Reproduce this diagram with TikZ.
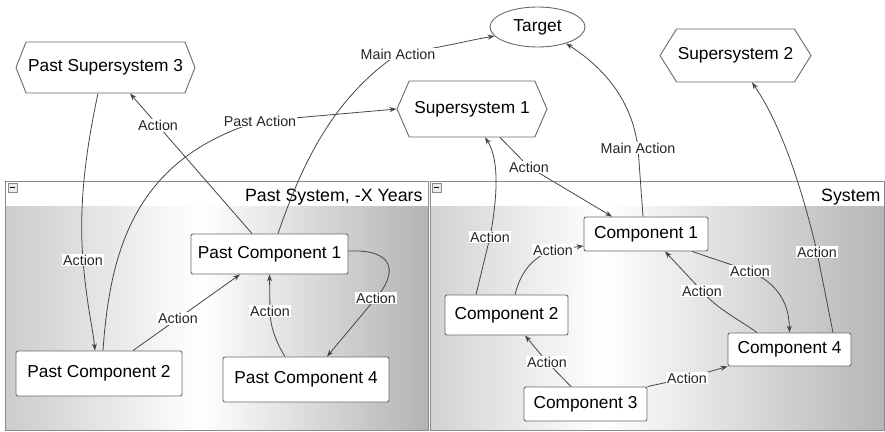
\documentclass[tikz,border=0pt]{standalone}
\usepackage{fontspec}
\setmainfont{Liberation Sans}
\usetikzlibrary{shapes.geometric,shapes.symbols,arrows.meta,calc}

\definecolor{edgecol}{HTML}{454545}
\definecolor{framecol}{HTML}{8A8A8A}
\definecolor{boxcol}{HTML}{6A6A6A}
\definecolor{pastL}{HTML}{CCCCCC}
\definecolor{pastR}{HTML}{B3B3B3}
\definecolor{sysL}{HTML}{D2D2D2}
\definecolor{sysR}{HTML}{B6B6B6}

% horizontal fills of the two system panels (visible range 25bp..75bp)
\pgfdeclarehorizontalshading{pastfill}{100bp}{color(0bp)=(pastL); color(25bp)=(pastL); color(48bp)=(white); color(75bp)=(pastR); color(100bp)=(pastR)}
\pgfdeclarehorizontalshading{sysfill}{100bp}{color(0bp)=(sysL); color(25bp)=(sysL); color(44bp)=(white); color(75bp)=(sysR); color(100bp)=(sysR)}

\tikzset{
  nodefont/.style={font=\fontsize{17.3}{20}\selectfont},
  comp/.style={draw=boxcol, fill=white, rounded corners=2pt, line width=0.9pt,
    inner sep=0pt, nodefont},
  superbox/.style={signal, signal to=west and east, signal pointer angle=#1,
    draw=boxcol, fill=white, line width=0.9pt, inner sep=0pt, nodefont},
  targetbox/.style={ellipse, draw=boxcol, fill=white, line width=0.9pt,
    inner sep=0pt, minimum width=95pt, minimum height=40pt, nodefont},
  lbl/.style={fill=white, inner sep=1.2pt, text=black!85,
    font=\fontsize{14.3}{16}\selectfont},
  conn/.style={draw=edgecol, line width=0.8pt,
    -{Stealth[length=7pt,width=5pt]}},
  panel/.style={draw=framecol, line width=0.8pt},
  paneltitle/.style={anchor=base east, font=\fontsize{17.8}{20}\selectfont},
  minusbox/.style={draw=framecol, fill=black!8, line width=0.6pt,
    minimum size=9pt, inner sep=0pt}
}

\begin{document}
\begin{tikzpicture}[x=1pt,y=-1pt]
\useasboundingbox (0,0) rectangle (885,431);

% ---------- panels ----------
\shade[shading=pastfill] (5,206) rectangle (428,430);
\shade[shading=sysfill] (430,206) rectangle (884.5,430);
\draw[panel] (5,181) rectangle (428,430);
\draw[panel] (430,181) rectangle (884.5,430);
\node[minusbox] (m1) at (12.5,187.5) {};
\draw[line width=0.9pt] ([xshift=-2.5pt]m1.center) -- ([xshift=2.5pt]m1.center);
\node[minusbox] (m2) at (436.5,187.5) {};
\draw[line width=0.9pt] ([xshift=-2.5pt]m2.center) -- ([xshift=2.5pt]m2.center);
\node[paneltitle] (t1) at (426,201) {Past System, -X Years};
\node[paneltitle] (t2) at (884,201) {System};

% ---------- nodes ----------
\node[superbox=137, minimum width=179pt, minimum height=51pt] (ps3) at (105.5,67.5) {Past Supersystem 3};
\node[superbox=133, minimum width=150pt, minimum height=56pt] (ss1) at (472,109) {Supersystem 1};
\node[superbox=116, minimum width=151pt, minimum height=53pt] (ss2) at (735.5,55.5) {Supersystem 2};
\node[targetbox] (tgt) at (537.5,27) {Target};

\node[comp, minimum width=157pt, minimum height=40pt] (pc1) at (269.5,254) {Past Component 1};
\node[comp, minimum width=166pt, minimum height=45pt] (pc2) at (99,373.5) {Past Component 2};
\node[comp, minimum width=166pt, minimum height=45pt] (pc4) at (306,379.5) {Past Component 4};

\node[comp, minimum width=124pt, minimum height=34pt] (c1) at (646,234) {Component 1};
\node[comp, minimum width=123pt, minimum height=40pt] (c2) at (506.5,315) {Component 2};
\node[comp, minimum width=123pt, minimum height=34pt] (c3) at (585.5,404) {Component 3};
\node[comp, minimum width=123pt, minimum height=33pt] (c4) at (789.5,349.5) {Component 4};

% ---------- past system connectors ----------
\draw[conn] ([xshift=-7.5pt]ps3.south) .. controls (88,140) and (78,200) .. (83,260)
  node[lbl] (l1) {Action} .. controls (86,300) and (93,330) .. ([xshift=-4pt]pc2.north);
\draw[conn] ([xshift=4pt]pc2.north) .. controls (110,250) and (135,158) .. (260,121)
  node[lbl] (l2) {Past Action} -- (ss1.west);
\draw[conn] ([xshift=-17.5pt]pc1.north) -- node[lbl, pos=0.77] (l3) {Action} ([xshift=24.5pt]ps3.south);
\draw[conn] ([xshift=8.5pt]pc1.north) .. controls (300,170) and (330,100) .. (398,54)
  node[lbl] (l4) {Main Action} .. controls (440,48) and (470,40) .. (tgt.192);
\draw[conn] ([xshift=34pt]pc2.north) -- node[lbl, pos=0.42] (l5) {Action} ([xshift=-29.5pt]pc1.south);
\draw[conn] ([xshift=-21pt]pc4.north) .. controls (276,342) and (270,326) .. (270,311)
  node[lbl] (l6) {Action} -- (pc1.south);
\draw[conn] ([yshift=3pt]pc1.east) .. controls (398,249) and (396,275) .. (376,298)
  node[lbl] (l7) {Action} -- ([xshift=21pt]pc4.north);

% ---------- system connectors ----------
\draw[conn] ([xshift=-30.5pt]c2.north) -- (490,237) node[lbl] (l8) {Action}
  .. controls (497,200) and (500,160) .. ([xshift=13pt]ss1.south);
\draw[conn] ([xshift=28pt]ss1.south) -- (529,167) node[lbl] (l9) {Action}
  -- ([xshift=-34pt]c1.north);
\draw[conn] ([xshift=-3pt]c1.north) -- (638,148) node[lbl] (l10) {Main Action}
  .. controls (632,100) and (604,68) .. (tgt.330);
\draw[conn] ([xshift=8.5pt]c2.north) .. controls (520,275) and (530,258) .. (553,250)
  node[lbl] (l11) {Action} -- ([yshift=-12pt]c1.west);
\draw[conn] ([xshift=43.5pt]c4.north) -- (817,252) node[lbl] (l12) {Action}
  .. controls (806,205) and (785,130) .. ([xshift=16.5pt]ss2.south);
\draw[conn] ([xshift=46pt]c1.south) -- (750,271) node[lbl] (l13) {Action}
  .. controls (780,285) and (789,305) .. (c4.north);
\draw[conn] ([xshift=-32.5pt]c4.north) .. controls (740,320) and (718,310) .. (702,291)
  node[lbl] (l14) {Action} -- ([xshift=19pt]c1.south);
\draw[conn] ([xshift=-14.5pt]c3.north) -- (547,362) node[lbl] (l15) {Action}
  -- ([xshift=18.5pt]c2.south);
\draw[conn] (c3.north east) -- (687,378) node[lbl] (l16) {Action} -- (c4.south west);
\end{tikzpicture}
\end{document}
